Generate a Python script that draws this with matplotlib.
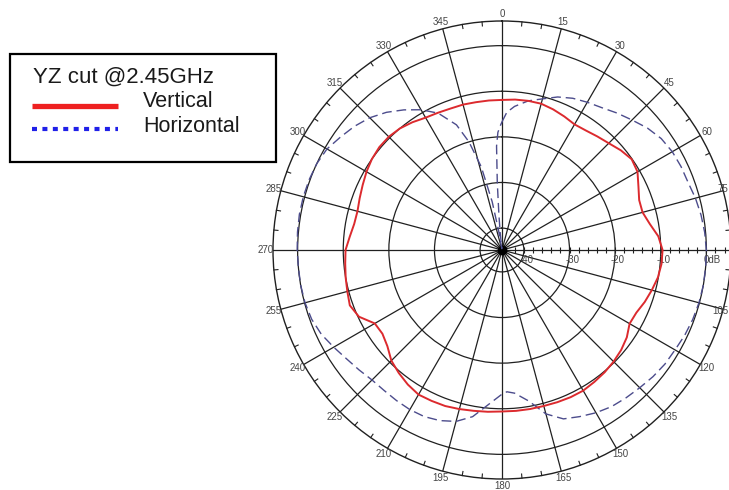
import numpy as np
import matplotlib
matplotlib.use("Agg")
import matplotlib.pyplot as plt
from matplotlib.lines import Line2D
from matplotlib.patches import Rectangle

# ---- pattern data (dB, angle in degrees, clockwise from top) ----
vertical_angles = list(range(0, 360, 5))
vertical_db = [
    -11.9, -11.7, -11.6, -11.6, -12.0, -12.5, -13.0, -12.8, -12.3, -11.7,
    -10.8, -10.1, -10.5, -11.8, -12.8, -12.9, -11.9, -10.4, -9.6, -9.7,
    -10.1, -10.8, -11.5, -12.3, -12.5, -11.4, -10.7, -10.2, -9.8, -9.5,
    -9.2, -9.2, -9.3, -9.4, -9.4, -9.4, -9.4, -9.2, -9.0, -8.7,
    -8.4, -8.3, -8.2, -8.8, -9.6, -10.5, -12.0, -12.8, -12.6, -10.2,
    -9.3, -9.7, -10.0, -10.3, -10.5, -11.3, -11.9, -12.0, -11.6, -11.1,
    -10.5, -10.0, -9.7, -9.7, -10.0, -10.6, -11.3, -11.6, -11.8, -11.8,
    -11.9, -11.9,
]

horizontal_angles = [
    0, 2, 5, 10, 15, 20, 25, 30, 35, 40, 45, 50, 55, 60, 65, 70, 75, 80, 85,
    90, 95, 100, 105, 110, 115, 120, 125, 130, 135, 140, 145, 150, 155, 160,
    165, 170, 175, 178, 180, 185, 190, 195, 200, 205, 210, 215, 220, 225,
    230, 235, 240, 245, 250, 255, 260, 265, 270, 275, 280, 285, 290, 295,
    300, 305, 310, 315, 320, 325, 330, 335, 340, 343, 346, 348.5, 350, 352,
    354, 355, 356, 357, 358, 359,
]
horizontal_db = [
    -16.7, -14.6, -13.2, -11.6, -10.5, -9.1, -8.1, -7.4, -6.7, -5.6, -4.5,
    -3.2, -2.2, -1.7, -1.5, -1.4, -0.9, -0.5, -0.2,
    0.0, 0.0, 0.0, -0.1, -0.3, -0.6, -1.0, -1.2, -1.6, -2.1, -2.5, -2.9,
    -3.6, -4.5, -5.4,
    -7.6, -11.2, -13.3, -13.7, -13.2, -10.8, -7.7, -5.9, -5.0, -4.5, -4.4,
    -4.5, -4.6, -4.5,
    -3.9, -3.2, -2.2, -1.1, -0.4, -0.1, 0.0, 0.0, 0.1, 0.2, 0.3, 0.3, 0.2,
    0.0,
    -0.5, -1.6, -2.6, -3.8, -5.4, -7.3, -9.3, -11.7, -15.6, -20.0, -26.0,
    -34.0, -40.5, -44.5,
    -41.0, -37.0, -30.0, -22.0, -19.0, -17.8,
]

ring_values = [-40, -30, -20, -10, 0]
ring_labels = ["-40", "-30", "-20", "-10", "0dB"]
angle_ticks = list(range(0, 360, 15))
angle_labels = [str(a) for a in angle_ticks]

legend_title = "YZ cut @2.45GHz"
series_names = ["Vertical", "Horizontal"]

R_MIN, R_MAX = -44.8, 5.4
GRID = "#202020"
LABEL = "#454545"
W, H = 729, 490

fig = plt.figure(figsize=(W / 100, H / 100), dpi=100)
ax = fig.add_axes([0.37448, 0.02245, 0.62826, 0.93469], projection="polar")
ax.set_theta_zero_location("N")
ax.set_theta_direction(-1)
ax.set_ylim(R_MIN, R_MAX)

# grid: rings and 15-degree spokes
ax.set_rgrids(ring_values, labels=[""] * len(ring_values))
ax.set_thetagrids(angle_ticks, labels=[""] * len(angle_ticks))
ax.grid(True, color=GRID, lw=0.9)
ax.tick_params(axis="both", length=0, pad=0)
ax.spines["polar"].set_color(GRID)
ax.spines["polar"].set_linewidth(1.0)

# outer-circle minor ticks every 5 degrees (pointing inward)
for a in range(0, 360, 5):
    if a % 15 == 0:
        continue
    t = np.radians(a)
    ax.plot([t, t], [R_MAX - 0.9, R_MAX], color=GRID, lw=0.8, clip_on=False)

# ticks along the 90-degree radial axis
r_ticks = np.arange(-44, 5, 2)
ax.plot(np.full(len(r_ticks), np.pi / 2), r_ticks, ls="none", marker="|",
        ms=5, mew=0.8, color=GRID, clip_on=False)

# centre hub
ax.plot([0], [R_MIN], marker="o", ms=6, color="black")

# angle labels around the outside (kept inside the canvas on the right edge)
fig.canvas.draw()
r_lab = R_MIN + 236 / 4.56
for a, lab in zip(angle_ticks, angle_labels):
    if a == 90:
        continue
    t = np.radians(a)
    px, py = ax.transData.transform((t, r_lab))
    if px + 8 > W - 1:
        fig.text((W - 1) / W, py / H, lab, ha="right", va="center", fontsize=7,
                 color=LABEL, family="Liberation Sans")
    else:
        ax.text(t, r_lab, lab, ha="center", va="center", fontsize=7,
                color=LABEL, family="Liberation Sans", clip_on=False)

# dB labels along the 90-degree axis
for v, lab in zip(ring_values, ring_labels):
    if lab.endswith("dB"):
        ax.annotate(lab, (np.pi / 2, v), xytext=(-2, -7), textcoords="offset points",
                    ha="left", va="center", fontsize=7, color=LABEL,
                    family="Liberation Sans")
    else:
        ax.annotate(lab, (np.pi / 2, v), xytext=(2, -7), textcoords="offset points",
                    ha="center", va="center", fontsize=7, color=LABEL,
                    family="Liberation Sans")

# measured patterns (closed curves)
va = np.radians(vertical_angles + [vertical_angles[0] + 360])
vd = vertical_db + [vertical_db[0]]
ax.plot(va, vd, color="#dc2a2e", lw=1.4, zorder=5)

ha_ = np.radians(horizontal_angles + [360])
hd = horizontal_db + [horizontal_db[0]]
ax.plot(ha_, hd, color="#4c4c8c", lw=1.0, dashes=(7, 3.5), zorder=4)


# legend box drawn in figure pixels
def fx(x):
    return x / W


def fy(y):
    return 1 - y / H


fig.patches.append(Rectangle((fx(10), fy(162)), fx(276) - fx(10), fy(54) - fy(162),
                             transform=fig.transFigure, fill=False, ec="black",
                             lw=1.6))
fig.text(fx(33), fy(83), legend_title, fontsize=16, family="Liberation Sans",
         color="#1a1a1a", va="baseline", ha="left")
fig.add_artist(Line2D([fx(32), fx(118)], [fy(106), fy(106)], color="#ee2020",
                      lw=3.8, solid_capstyle="butt"))
fig.add_artist(Line2D([fx(32), fx(118)], [fy(129), fy(129)], color="#2020e8",
                      lw=3.0, dashes=(1.2, 1.3), dash_capstyle="butt"))
fig.text(fx(143), fy(107), series_names[0], fontsize=15.5, family="Liberation Sans",
         color="#1a1a1a", va="baseline", ha="left")
fig.text(fx(143), fy(132), series_names[1], fontsize=15.5, family="Liberation Sans",
         color="#1a1a1a", va="baseline", ha="left")

fig.savefig("out.png", dpi=100)
